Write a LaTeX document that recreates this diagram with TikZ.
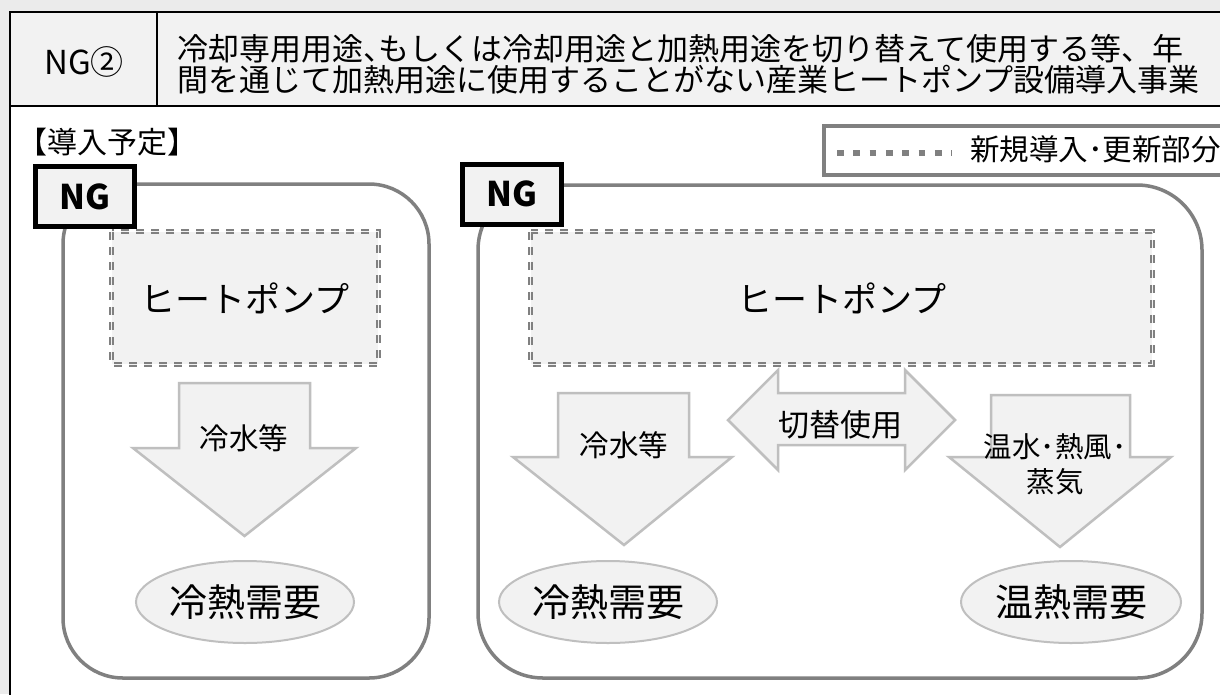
\documentclass[tikz,border=0pt]{standalone}
\usepackage{fontspec}
\setmainfont{Noto Sans CJK JP}
\usetikzlibrary{shapes.geometric}
\definecolor{bggray}{HTML}{EBEBEB}
\definecolor{lightfill}{HTML}{F2F2F2}
\definecolor{midgray}{HTML}{808080}
\definecolor{arrowgray}{HTML}{BFBFBF}
\newcommand{\fs}[1]{\fontsize{#1}{#1}\selectfont}
\begin{document}
\begin{tikzpicture}[x=1pt,y=-1pt,
  panel/.style={draw=midgray,line width=3.5pt},
  hpbox/.style={fill=lightfill,draw=none,minimum height=132pt,inner sep=0pt,font=\fs{35}},
  dashframe/.style={draw=midgray,line width=5pt,dash pattern=on 8pt off 7pt},
  dashinner/.style={draw=lightfill,line width=1pt,dash pattern=on 8pt off 7pt},
  ngbox/.style={draw=black,line width=5pt,fill=lightfill,minimum width=99pt,minimum height=60pt,inner sep=0pt,font=\fs{34}\bfseries},
  demand/.style={ellipse,draw=arrowgray,line width=2pt,fill=lightfill,minimum width=218pt,minimum height=82pt,inner sep=0pt,font=\fs{38}},
  blockarrow/.style={draw=arrowgray,line width=2.5pt,fill=lightfill,line join=miter},
  lbl/.style={inner sep=0pt},
  legendbox/.style={draw=midgray,line width=4pt,fill=white,minimum width=420pt,minimum height=49pt,inner sep=0pt},
  frameline/.style={draw=black,line width=2.5pt}
]
\useasboundingbox (0,0) rectangle (1220,694);
\clip (0,0) rectangle (1220,694);
% background
\fill[bggray] (0,0) rectangle (1220,694);
\fill[white] (10,12) rectangle (1240,720);
\fill[lightfill] (10,12) rectangle (1240,106);
\draw[frameline] (1240,12) -- (10,12) -- (10,720);
\draw[frameline] (10,106) -- (1240,106);
\draw[frameline] (157,12) -- (157,106);
% header texts
\node[lbl,font=\fs{33}] (hdrno) at (84,62) {NG②};
\node[lbl,font=\fs{31},anchor=west] (hdr1) at (177,49) {冷却専用用途{\addfontfeatures{RawFeature=+halt}、}もしくは冷却用途と加熱用途を切り替えて使用する等、年};
\node[lbl,font=\fs{31},anchor=west] (hdr2) at (177,80) {間を通じて加熱用途に使用することがない産業ヒートポンプ設備導入事業};
% plan label
\node[lbl,font=\fs{30},anchor=west] (plan) at (17,142) {【導入予定】};
% legend
\node[legendbox,anchor=north west] (legend) at (822,124) {};
\coordinate (lgA) at (837,153);
\coordinate (lgB) at (952,153);
\draw[midgray,line width=6.7pt,dash pattern=on 6.7pt off 9.6pt] (lgA) -- (lgB);
\node[lbl,font=\fs{29.5},anchor=west] (legendtxt) at (970,149) {新規導入･更新部分};
% panels
\draw[panel,rounded corners=60pt] (63,184) rectangle (429,678);
\draw[panel,rounded corners=65pt] (478,185) rectangle (1202,678);
% NG boxes
\node[ngbox] (ngL) at (85,196.5) {NG};
\node[ngbox] (ngR) at (512,194) {NG};
% heat pump boxes
\node[hpbox,minimum width=266pt] (hpL) at (245,298) {ヒートポンプ};
\draw[dashframe] (hpL.north west) rectangle (hpL.south east);
\draw[dashinner] (hpL.north west) rectangle (hpL.south east);
\node[hpbox,minimum width=621pt,text width=621pt,align=center] (hpR) at (841.5,298) {ヒートポンプ};
\draw[dashframe] (hpR.north west) rectangle (hpR.south east);
\draw[dashinner] (hpR.north west) rectangle (hpR.south east);
% block arrows
\draw[blockarrow] (179,383) -- (310,383) -- (310,448) -- (356,448) -- (244.5,536) -- (133,448) -- (179,448) -- cycle;
\draw[blockarrow] (558,393) -- (689,393) -- (689,457) -- (732,457) -- (624,545) -- (513,457) -- (558,457) -- cycle;
\draw[blockarrow] (991,395) -- (1130,395) -- (1130,457) -- (1171,457) -- (1060,547) -- (949,457) -- (991,457) -- cycle;
\draw[blockarrow] (728,420) -- (778,370) -- (778,393) -- (905,393) -- (905,370) -- (955,420) -- (905,470) -- (905,445) -- (778,445) -- (778,470) -- cycle;
\node[lbl,font=\fs{29.5}] (coldL) at (244,438) {冷水等};
\node[lbl,font=\fs{29.5}] (coldR) at (624,445) {冷水等};
\node[lbl,font=\fs{31}] (switch) at (840,425) {切替使用};
\node[lbl,font=\fs{28.5}] (hot1) at (1055,447) {温水･熱風･};
\node[lbl,font=\fs{28.5}] (hot2) at (1055,482) {蒸気};
% demand ellipses
\node[demand] (demL) at (245,602) {冷熱需要};
\node[demand] (demRc) at (608,602) {冷熱需要};
\node[demand,minimum width=220pt] (demRh) at (1071,602) {温熱需要};
\end{tikzpicture}
\end{document}
